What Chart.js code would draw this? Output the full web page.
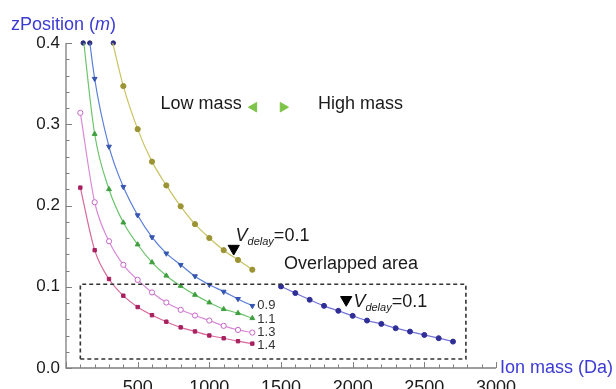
<!DOCTYPE html>
<html><head><meta charset="utf-8">
<script src="https://cdn.jsdelivr.net/npm/chart.js@4/dist/chart.umd.min.js"></script>
<style>html,body{margin:0;padding:0;background:#fff}</style>
</head><body>
<canvas id="c" width="616" height="389"></canvas>
<script>
// ---- data ----
const massLow = [100,200,300,400,500,600,700,800,900,1000,1100,1200,1300];
const z09 = [0.50,0.356,0.2725,0.223,0.188,0.161,0.141,0.127,0.113,0.1025,0.094,0.085,0.0765];
const z11 = [0.44,0.288,0.220,0.179,0.152,0.130,0.1136,0.101,0.090,0.0806,0.0724,0.0675,0.0613];
const z13 = [0.314,0.204,0.156,0.127,0.1085,0.093,0.0806,0.0716,0.0646,0.0584,0.0519,0.0469,0.0436];
const z14 = [0.222,0.145,0.1095,0.089,0.075,0.065,0.057,0.050,0.045,0.040,0.0366,0.033,0.030];
const massYellow = [300,400,500,600,700,800,900,1000,1100,1200,1300];
const zYellow = [0.42,0.347,0.294,0.254,0.2247,0.199,0.177,0.160,0.145,0.133,0.121];
const massHigh = [1500,1600,1700,1800,1900,2000,2100,2200,2300,2400,2500,2600,2700];
const zHigh = [0.1004,0.0922,0.084,0.0765,0.0704,0.0642,0.0584,0.0543,0.049,0.0448,0.0407,0.0367,0.0325];
const massEdge = [120,166,330];
const zEdge = [0.4,0.4,0.4];
const curveLabels = ['0.9','1.1','1.3','1.4'];
const delayMass = [1170,1955];
const delayZ = [0.147,0.084];
const boxMass = [100,2790,2790,100,100];
const boxZ = [0.011,0.011,0.103,0.103,0.011];
const arrowMass = [1311,1514];
const arrowZ = [0.321,0.321];
const xTicks = [500,1000,1500,2000,2500,3000];
const yTicks = [0.0,0.1,0.2,0.3,0.4];

const pts = (xs, ys) => xs.map((x,i)=>({x, y: ys[i]}));
const FONT = '"Liberation Sans", Arial, sans-serif';

function curve(label, xs, ys, line, mark, style, extra) {
  return Object.assign({
    label, data: pts(xs, ys), showLine: true, borderColor: line, borderWidth: 1.2,
    backgroundColor: mark, pointBorderColor: mark, pointBackgroundColor: mark,
    pointStyle: style, pointRadius: 2.6, pointBorderWidth: 1,
    cubicInterpolationMode: 'monotone'
  }, extra || {});
}

const textPlugin = {
  id: 'texts',
  afterDraw(chart) {
    const ctx = chart.ctx, xs = chart.scales.x, ys = chart.scales.y;
    const ca = chart.chartArea;
    const X = v => xs.getPixelForValue(v), Y = v => ys.getPixelForValue(v);
    ctx.save();
    // axes
    ctx.strokeStyle = '#7f7f7f'; ctx.lineWidth = 1.3;
    ctx.beginPath();
    ctx.moveTo(ca.left, ca.top); ctx.lineTo(ca.left, ca.bottom); ctx.lineTo(ca.right, ca.bottom);
    ctx.stroke();
    ctx.lineWidth = 1;
    for (let v = 0; v <= 3000; v += 100) {
      const L = v % 500 === 0 ? 6 : 3.5, px = Math.round(X(v)) + 0.5;
      ctx.beginPath(); ctx.moveTo(px, ca.bottom); ctx.lineTo(px, ca.bottom - L); ctx.stroke();
    }
    for (let i = 0; i <= 20; i++) {
      const v = i * 0.02, L = i % 5 === 0 ? 6 : 3.5, py = Math.round(Y(v)) + 0.5;
      ctx.beginPath(); ctx.moveTo(ca.left, py); ctx.lineTo(ca.left + L, py); ctx.stroke();
    }
    // axis titles
    ctx.fillStyle = '#3b3bd4';
    ctx.textBaseline = 'middle'; ctx.textAlign = 'left';
    ctx.font = '18px ' + FONT;
    let x0 = 11;
    const t1 = 'zPosition (', t2 = 'm', t3 = ')';
    ctx.fillText(t1, x0, 25); x0 += ctx.measureText(t1).width;
    ctx.font = 'italic 18px ' + FONT; ctx.fillText(t2, x0, 25); x0 += ctx.measureText(t2).width;
    ctx.font = '18px ' + FONT; ctx.fillText(t3, x0, 25);
    ctx.fillText('Ion mass (Da)', ca.right + 4, ca.bottom);
    // annotations
    ctx.fillStyle = '#1a1a1a';
    ctx.font = '18px ' + FONT;
    ctx.fillText('Low mass', X(660), Y(0.3247));
    ctx.fillText('High mass', X(1758), Y(0.3247));
    ctx.fillText('Overlapped area', X(1521), Y(0.1278));
    function vdelay(m, z) {
      let x = X(m); const y = Y(z);
      ctx.textBaseline = 'alphabetic';
      ctx.font = 'italic 18px ' + FONT; ctx.fillText('V', x, y); x += ctx.measureText('V').width;
      ctx.font = 'italic 11px ' + FONT; ctx.fillText('delay', x, y + 4); x += ctx.measureText('delay').width;
      ctx.font = '18px ' + FONT; ctx.fillText('=0.1', x, y);
    }
    vdelay(1183, 0.1568);
    vdelay(2005, 0.0753);
    ctx.textBaseline = 'middle';
    ctx.font = '13px ' + FONT; ctx.fillStyle = '#333';
    const lx = X(1335);
    const ly = [0.0775, 0.0595, 0.0432, 0.0284];
    curveLabels.forEach((t, i) => ctx.fillText(t, lx, Y(ly[i])));
    ctx.restore();
  }
};

new Chart(document.getElementById('c'), {
  type: 'scatter',
  data: {
    datasets: [
      { label: 'box', data: pts(boxMass, boxZ), showLine: true, borderColor: '#333', borderWidth: 1.6,
        borderDash: [4, 3], pointRadius: 0, fill: false },
      curve('1.4', massLow, z14, '#d8689c', '#a8205e', 'rect', {pointRadius: 2.4}),
      curve('1.3', massLow, z13, '#d88ad8', '#c566c5', 'circle', {pointBackgroundColor: '#fff', pointRadius: 2.6}),
      curve('1.1', massLow, z11, '#6cc46c', '#3f9f3f', 'triangle', {pointRadius: 2.8}),
      curve('0.9', massLow, z09, '#5a7fd8', '#3556b0', 'triangle', {pointRotation: 180, pointRadius: 2.8}),
      curve('yellow', massYellow, zYellow, '#c9c364', '#9c9434', 'circle', {pointRadius: 2.6}),
      curve('high', massHigh, zHigh, '#7474d6', '#2e2e96', 'circle', {pointRadius: 2.5}),
      { label: 'edge', data: pts(massEdge, zEdge), showLine: false, pointRadius: 2.2,
        pointBackgroundColor: '#2c2c80', pointBorderColor: '#2c2c80', clip: 6 },
      { label: 'delay', data: pts(delayMass, delayZ), showLine: false, pointStyle: 'triangle',
        pointRotation: 180, pointRadius: 6.5, pointBackgroundColor: '#000', pointBorderColor: '#000' },
      { label: 'arrows', data: pts(arrowMass, arrowZ), showLine: false, pointStyle: 'triangle',
        pointRotation: [270, 90], pointRadius: 5.5, pointBackgroundColor: '#7ec44a', pointBorderColor: '#7ec44a' }
    ]
  },
  options: {
    responsive: false, animation: false, devicePixelRatio: 1,
    layout: { padding: { top: 43, right: 120, left: 0, bottom: 0 } },
    plugins: { legend: { display: false }, tooltip: { enabled: false } },
    scales: {
      x: {
        type: 'linear', min: 0, max: 3000,
        afterFit: s => { s.height = 21; },
        grid: { display: false, drawTicks: false }, border: { display: false },
        afterBuildTicks: s => { s.ticks = xTicks.map(v => ({value: v})); },
        ticks: { padding: 9, color: '#1a1a1a', font: { family: FONT, size: 18 }, maxRotation: 0,
                 callback: v => String(v) }
      },
      y: {
        type: 'linear', min: 0, max: 0.4,
        afterFit: s => { s.width = 66; },
        grid: { display: false, drawTicks: false }, border: { display: false },
        afterBuildTicks: s => { s.ticks = yTicks.map(v => ({value: v})); },
        ticks: { padding: 6, color: '#1a1a1a', font: { family: FONT, size: 17 },
                 callback: v => Number(v).toFixed(1) }
      }
    }
  },
  plugins: [textPlugin]
});
</script>
</body></html>
